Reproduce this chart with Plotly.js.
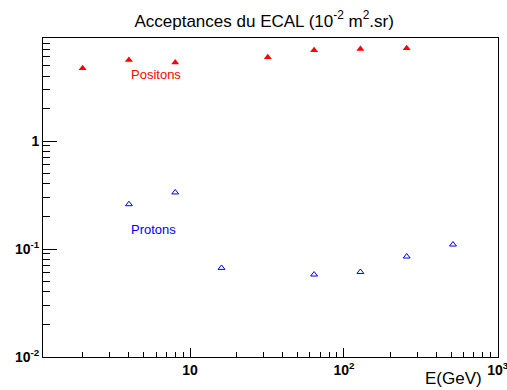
<!DOCTYPE html>
<html>
<head>
<meta charset="utf-8">
<script src="https://cdn.plot.ly/plotly-3.0.1.min.js"></script>
<style>html,body{margin:0;padding:0;background:#fff;}#chart{width:507px;height:390px;}</style>
</head>
<body>
<div id="chart"></div>
<script>
// Data (energies in GeV, acceptances in 10^-2 m^2.sr)
const positonE = [2, 4, 8, 32, 64, 128, 256];
const positonAcc = [4.73, 5.64, 5.33, 5.98, 6.94, 7.13, 7.24];
const protonE = [4, 8, 16, 64, 128, 256, 512];
const protonAcc = [0.260, 0.334, 0.0668, 0.058, 0.0613, 0.0852, 0.110];

const xTickVals = [10, 100, 1000];
const xTickText = ['10', '10<sup>2</sup>', '10<sup>3</sup>'];
const yTickVals = [0.01, 0.1, 1];
const yTickText = ['10<sup>-2</sup>', '10<sup>-1</sup>', '1'];

function minorVals(decades) {
  const out = [];
  decades.forEach(d => { for (let k = 2; k <= 9; k++) out.push(k * d); });
  return out;
}

const FONT = 'Liberation Sans, Arial, Helvetica, sans-serif';

const traces = [
  {
    x: positonE, y: positonAcc, type: 'scatter', mode: 'markers', name: 'Positons',
    marker: {symbol: 'triangle-up', size: 7, color: '#ff0000', line: {width: 0}}
  },
  {
    x: protonE, y: protonAcc, type: 'scatter', mode: 'markers', name: 'Protons',
    marker: {symbol: 'triangle-up-open', size: 6, color: '#0000ff', line: {width: 1, color: '#0000ff'}}
  }
];

const layout = {
  width: 507, height: 390,
  margin: {l: 43, r: 9, t: 38, b: 33},
  paper_bgcolor: '#ffffff', plot_bgcolor: '#ffffff',
  showlegend: false,
  font: {family: FONT, color: '#000'},
  title: {
    text: 'Acceptances du ECAL (10<sup>-2</sup> m<sup>2</sup>.sr)',
    font: {family: FONT, size: 17, color: '#000'},
    x: 0.521, xref: 'container', xanchor: 'center',
    y: 0.947, yref: 'container', yanchor: 'middle'
  },
  xaxis: {
    type: 'log', range: [0.0434, 3.002],
    showgrid: false, zeroline: false,
    showline: true, linecolor: '#000', linewidth: 1, mirror: true,
    ticks: 'inside', ticklen: 9.5, tickwidth: 1, tickcolor: '#000',
    tickmode: 'array', tickvals: xTickVals, ticktext: xTickText,
    ticklabeloverflow: 'allow',
    tickfont: {family: FONT, size: 14, color: '#000', weight: 'bold'},
    minor: {tickmode: 'array', tickvals: minorVals([1, 10, 100]), ticks: 'inside', ticklen: 4.75, tickwidth: 1, tickcolor: '#000', showgrid: false}
  },
  yaxis: {
    type: 'log', range: [-2, 0.954],
    showgrid: false, zeroline: false,
    showline: true, linecolor: '#000', linewidth: 1, mirror: true,
    ticks: 'inside', ticklen: 14, tickwidth: 1, tickcolor: '#000',
    tickmode: 'array', tickvals: yTickVals, ticktext: yTickText,
    ticklabeloverflow: 'allow',
    tickfont: {family: FONT, size: 14, color: '#000', weight: 'bold'},
    minor: {tickmode: 'array', tickvals: minorVals([0.01, 0.1, 1]), ticks: 'inside', ticklen: 7, tickwidth: 1, tickcolor: '#000', showgrid: false}
  },
  annotations: [
    {text: 'Positons', x: Math.log10(4.0), y: Math.log10(4.1), xref: 'x', yref: 'y',
     xanchor: 'left', yanchor: 'middle', showarrow: false,
     font: {family: FONT, size: 13, color: '#ff0000'}},
    {text: 'Protons', x: Math.log10(4.0), y: Math.log10(0.152), xref: 'x', yref: 'y',
     xanchor: 'left', yanchor: 'middle', showarrow: false,
     font: {family: FONT, size: 13, color: '#0000ff'}},
    {text: 'E(GeV)', x: 0.97, y: -0.066, xref: 'paper', yref: 'paper',
     xanchor: 'right', yanchor: 'middle', showarrow: false,
     font: {family: FONT, size: 17, color: '#000'}}
  ]
};

Plotly.newPlot('chart', traces, layout, {displayModeBar: false, staticPlot: true});
</script>
</body>
</html>
